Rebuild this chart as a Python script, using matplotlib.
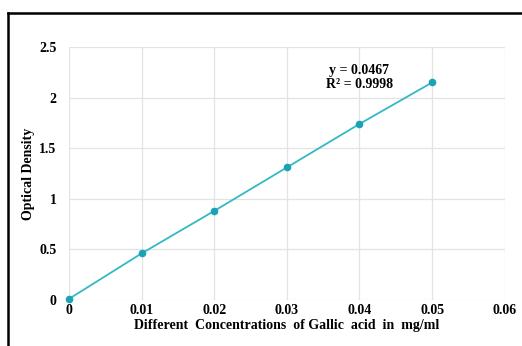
import matplotlib
matplotlib.use("Agg")
import matplotlib.pyplot as plt
from matplotlib.lines import Line2D

conc = [0, 0.01, 0.02, 0.03, 0.04, 0.05]
od = [0.01, 0.46, 0.88, 1.31, 1.74, 2.15]
xticks = [0, 0.01, 0.02, 0.03, 0.04, 0.05, 0.06]
xlabels = ["0", "0.01", "0.02", "0.03", "0.04", "0.05", "0.06"]
yticks = [0, 0.5, 1, 1.5, 2, 2.5]
ylabels = ["0", "0.5", "1", "1.5", "2", "2.5"]

plt.rcParams['font.family'] = ['Liberation Serif', 'DejaVu Serif']
plt.rcParams['font.weight'] = 'bold'

fig = plt.figure(figsize=(5.22, 3.46), dpi=100)
ax = fig.add_axes([0.132, 0.133, 0.835, 0.731])

ax.plot(conc, od, c="#33b8c6", lw=1.3, zorder=3, clip_on=False)
ax.scatter(conc, od, s=20, c="#1ba3b4", zorder=4, clip_on=False)

ax.set_xlim(0, 0.06)
ax.set_ylim(0, 2.5)
ax.set_xticks(xticks, xlabels)
ax.set_yticks(yticks, ylabels)
ax.tick_params(axis="x", length=0, labelsize=10, pad=3)
ax.tick_params(axis="y", length=0, labelsize=10, pad=9)
for lbl in ax.get_xticklabels() + ax.get_yticklabels():
    lbl.set_fontweight("bold")
ax.grid(True, color="#e3e3e3", lw=0.9)
ax.set_axisbelow(True)
for s in ax.spines.values():
    s.set_visible(False)

ax.set_xlabel("Different  Concentrations  of Gallic  acid  in  mg/ml", fontsize=10, fontweight="bold", labelpad=1)
ax.set_ylabel("Optical Density", fontsize=10, fontweight="bold", labelpad=3)

ax.text(0.04, 2.2, "y = 0.0467\nR\u00b2 = 0.9998", ha="center", va="center",
        fontsize=10, fontweight="bold", linespacing=1.1)

# outer frame (top and left edges)
fig.add_artist(Line2D([8/522, 1], [1-13/346, 1-13/346], transform=fig.transFigure, c="black", lw=1.8))
fig.add_artist(Line2D([8/522, 8/522], [0, 1-13/346], transform=fig.transFigure, c="black", lw=1.8))

fig.savefig("out.png", dpi=100)
